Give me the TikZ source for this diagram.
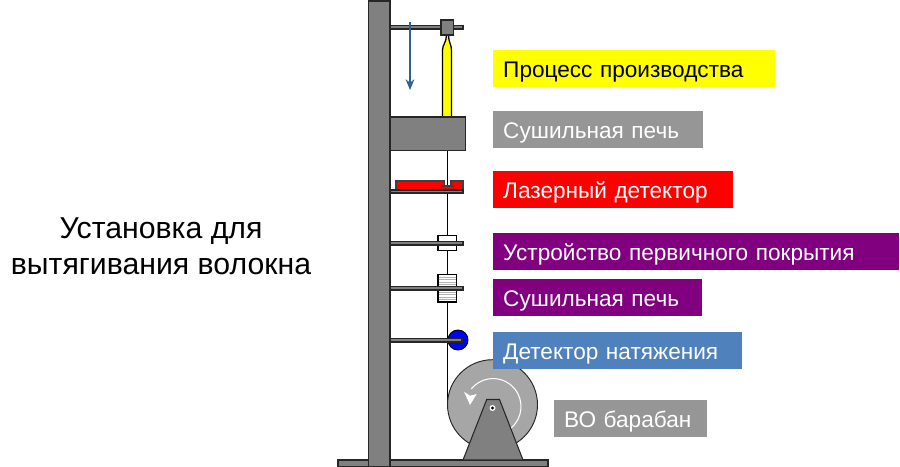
\documentclass[tikz,border=0pt]{standalone}
\usepackage{fontspec}
\setmainfont{Liberation Sans}
\usetikzlibrary{arrows.meta, positioning}
\definecolor{rackgray}{HTML}{808080}
\definecolor{drumgray}{HTML}{A6A6A6}
\definecolor{tagpurple}{HTML}{800080}
\definecolor{tagblue}{HTML}{4F81BD}
\definecolor{tagyellow}{HTML}{FFFF00}
\definecolor{taggray}{HTML}{969696}
\definecolor{arrowblue}{HTML}{2F5F9A}
\tikzset{
  rackpart/.style={draw=black!85, fill=rackgray, line width=0.9pt},
  tag/.style={anchor=west, minimum height=1.11cm, text height=0.81cm, text depth=0.3cm, inner xsep=0.3cm, inner ysep=0pt, align=left, text=white, font=\fontsize{19.3}{22}\selectfont},
}
\begin{document}
\begin{tikzpicture}[x=0.03cm, y=-0.03cm]
      \useasboundingbox (0,0) rectangle (900,466);

      % Rack
      \draw[rackpart] (338,460) rectangle (548,467);
      \draw[rackpart] (368.5,1) rectangle (390,467);

      % Fibre
      \draw[line width=0.85pt] (447.5,150) -- (447.5,405);

      % Top arm and preform
      \draw[rackpart] (390,25.5) rectangle (463,29);
      \draw[black, fill=tagyellow, line width=1.1pt] (442.5,117) -- (442.5,50)
        .. controls (442.5,45) and (446.5,42) .. (446.5,35) -- (448.5,35)
        .. controls (448.5,42) and (451.5,45) .. (451.5,50) -- (451.5,117) -- cycle;
      \draw[rackpart] (441,20) rectangle (453.5,35);

      % Pull direction
      \draw[-{Stealth[length=3.2mm, width=2.6mm, inset=1mm]}, arrowblue, line width=1.1pt] (410,22) -- (410,90);

      % Oven
      \draw[rackpart] (390,117) rectangle (465.5,150.5);

      % Laser detector
      \draw[black!75, fill=red, line width=0.9pt] (396,181) -- (444.5,181) -- (444.5,186) -- (451,186) -- (451,181) -- (463,181) -- (463,190) -- (396,190) -- cycle;
      \draw[black!75, fill=red, line width=0.9pt] (441.5,186) rectangle (453.5,190);
      \draw[rackpart] (390,190) rectangle (463,193);

      % Primary coating
      \draw[black, fill=white, line width=0.9pt] (438,235.5) rectangle (456.5,250.5);
      \draw[rackpart] (390,241.5) rectangle (463,245);

      % Curing oven
      \draw[black, fill=white, line width=0.9pt] (438,274.5) rectangle (456.5,302);
      \foreach \y in {277,279.5,282,284.5,292,294.5,297,299.5}
        \draw[black!30, line width=0.6pt] (438.7,\y) -- (455.8,\y);
      \draw[rackpart] (390,286.5) rectangle (463,290);

      % Tension detector
      \draw[black, fill=blue, line width=0.8pt] (458,340) circle[radius=10];
      \draw[rackpart] (390,338.5) rectangle (462,342);

      % Drum
      \draw[black!85, fill=drumgray, line width=0.8pt] (492.5,404.7) circle[radius=45];
      \draw[white, line width=0.9pt] (511,428)
        arc[start angle=50, end angle=-141, radius=28];
      \fill[white] (464,391.7) -- (470,395.7) -- (476.7,394) -- (470,405) -- cycle;
      \draw[rackpart] (486.7,399.5) -- (499.5,399.5) -- (523,460) -- (463,460) -- cycle;
      \draw[fill=white, draw=none] (492.5,408) circle[radius=3];
      \fill[black] (492.5,408) circle[radius=1.6];

      % Labels
      \node[tag, fill=tagyellow, text=black, text width=7.86cm] (preform) at (493,68.5) {Процесс производства};
      \node[tag, fill=taggray, text width=5.7cm] (oven) at (493,129.5) {Сушильная печь};
      \node[tag, fill=red, text width=6.6cm] (laser) at (493,189.5) {Лазерный детектор};
      \node[tag, fill=tagpurple, text width=11.58cm] (coating) at (493,251.5) {Устройство первичного покрытия};
      \node[tag, fill=tagpurple, text width=5.67cm] (curing) at (493,297.5) {Сушильная печь};
      \node[tag, fill=tagblue, text width=6.87cm] (tension) at (493,350.5) {Детектор натяжения};
      \node[tag, fill=taggray, text width=3.99cm] (drum) at (554,418.5) {ВО барабан};

      % Title
      \node[align=center, font=\fontsize{25.8}{30.7}\selectfont] (title) at (161,246) {Установка для\\вытягивания волокна};
    \end{tikzpicture}
\end{document}
